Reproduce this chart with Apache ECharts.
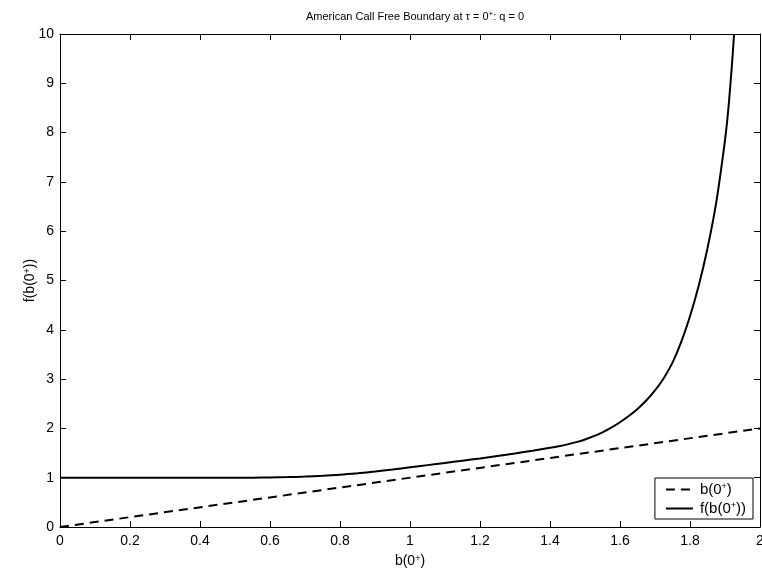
<!DOCTYPE html>
<html>
<head>
<meta charset="utf-8">
<script src="https://cdn.jsdelivr.net/npm/echarts@6/dist/echarts.min.js"></script>
<style>html,body{margin:0;padding:0;background:#fff;overflow:hidden}#c{width:762px;height:575px}</style>
</head>
<body>
<div id="c"></div>
<script>
// Data
const bX = [0, 2];
const bY = [0, 2];
const fX = [0, 0.1, 0.2, 0.3, 0.4, 0.5, 0.55, 0.6, 0.65, 0.7, 0.75, 0.8, 0.85, 0.9, 0.95, 1.0, 1.05, 1.1, 1.15, 1.2, 1.25, 1.3, 1.35, 1.4, 1.425, 1.45, 1.475, 1.5, 1.525, 1.55, 1.575, 1.6, 1.625, 1.65, 1.675, 1.7, 1.725, 1.75, 1.775, 1.8, 1.825, 1.85, 1.875, 1.9, 1.91, 1.92, 1.926];
const fY = [1, 1, 1, 1, 1, 1, 1.001, 1.005, 1.012, 1.022, 1.038, 1.06, 1.09, 1.125, 1.165, 1.21, 1.255, 1.3, 1.345, 1.39, 1.44, 1.492, 1.547, 1.606, 1.638, 1.676, 1.721, 1.776, 1.842, 1.921, 2.015, 2.125, 2.251, 2.396, 2.566, 2.77, 3.019, 3.333, 3.753, 4.274, 4.898, 5.655, 6.586, 7.846, 8.516, 9.393, 10.0];
const xTicks = { min: 0, max: 2, interval: 0.2 };
const yTicks = { min: 0, max: 10, interval: 1 };

const FONT = 'Liberation Sans, Arial, sans-serif';
const sup = (fs) => ({ fontSize: fs, fontFamily: FONT, color: '#000', verticalAlign: 'bottom', padding: [0, 0, 6, 0] });
const norm = (fs) => ({ fontSize: fs, fontFamily: FONT, color: '#000', fontWeight: 'normal' });

const chart = echarts.init(document.getElementById('c'), null, { renderer: 'canvas' });
const axisCommon = {
  axisLine: { show: true, onZero: false, lineStyle: { color: '#000', width: 1 } },
  axisTick: { show: true, inside: true, length: 6, lineStyle: { color: '#000' } },
  splitLine: { show: false }
};
chart.setOption({
  animation: false,
  backgroundColor: '#fff',
  title: {
    text: '{a|American Call Free Boundary at τ = 0}{s|+}{a|: q = 0}',
    left: 410, top: 5, textAlign: 'center',
    textStyle: { fontWeight: 'normal', rich: { a: norm(11), s: sup(8) } }
  },
  grid: { left: 60, right: 2, top: 34, bottom: 48, containLabel: false, outerBoundsMode: 'none' },
  legend: {
    orient: 'vertical', right: 9, bottom: 56,
    backgroundColor: '#fff', borderColor: '#000', borderWidth: 1, borderRadius: 0,
    padding: [4, 7, 3, 10], itemGap: 4, itemWidth: 27, itemHeight: 14,
    data: ['b', 'f'],
    itemStyle: { opacity: 0 },
    formatter: n => n === 'b' ? '{a|b(0}{s|+}{a|)}' : '{a|f(b(0}{s|+}{a|))}',
    textStyle: { padding: [0, 0, 0, 2], rich: { a: norm(15), s: sup(9) } }
  },
  xAxis: [
    Object.assign({
      type: 'value', min: xTicks.min, max: xTicks.max, interval: xTicks.interval, position: 'bottom',
      axisLabel: { color: '#000', fontSize: 14, fontFamily: FONT, margin: 7, formatter: v => String(+v.toFixed(1)) },
      name: '{a|b(0}{s|+}{a|)}', nameLocation: 'middle', nameGap: 27, nameMoveOverlap: false,
      nameTextStyle: { rich: { a: norm(14), s: sup(9) } }
    }, axisCommon),
    Object.assign({
      type: 'value', min: xTicks.min, max: xTicks.max, interval: xTicks.interval, position: 'top',
      axisLabel: { show: false }
    }, axisCommon)
  ],
  yAxis: [
    Object.assign({
      type: 'value', min: yTicks.min, max: yTicks.max, interval: yTicks.interval, position: 'left',
      axisLabel: { color: '#000', fontSize: 14, fontFamily: FONT, margin: 6 },
      name: '{a|f(b(0}{s|+}{a|))}', nameLocation: 'middle', nameGap: 22, nameRotate: 90, nameMoveOverlap: false,
      nameTextStyle: { rich: { a: norm(14), s: sup(9) } }
    }, axisCommon),
    Object.assign({
      type: 'value', min: yTicks.min, max: yTicks.max, interval: yTicks.interval, position: 'right',
      axisLabel: { show: false }
    }, axisCommon)
  ],
  series: [
    {
      name: 'b', type: 'line', showSymbol: false, symbol: 'none',
      data: bX.map((x, i) => [x, bY[i]]),
      lineStyle: { color: '#000', width: 2, type: [9, 6] },
      itemStyle: { color: '#000' }
    },
    {
      name: 'f', type: 'line', showSymbol: false, symbol: 'none', smooth: 0.3,
      data: fX.map((x, i) => [x, fY[i]]),
      lineStyle: { color: '#000', width: 2 },
      itemStyle: { color: '#000' }
    }
  ]
});
</script>
</body>
</html>
